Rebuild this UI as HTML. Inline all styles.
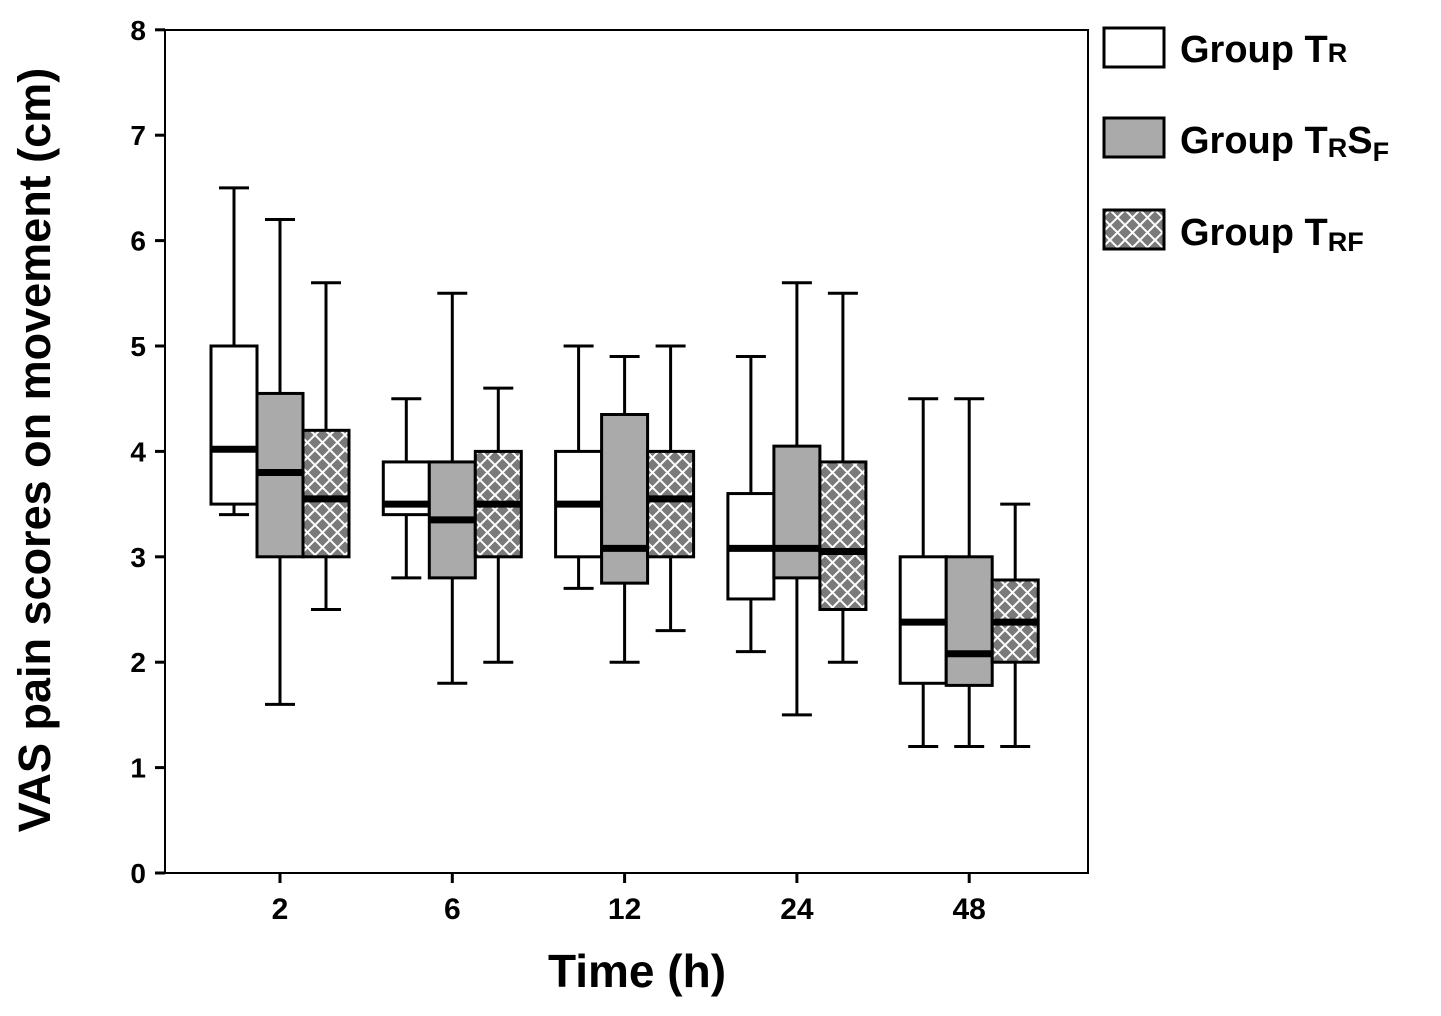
<!DOCTYPE html>
<html><head><meta charset="utf-8"><style>
body{margin:0;background:#fff;}
svg text{font-family:"Liberation Sans",sans-serif;font-weight:bold;fill:#000;}
</style></head><body>
<svg width="1441" height="1011">
<defs>
<pattern id="hatch" patternUnits="userSpaceOnUse" width="15" height="15">
<rect width="15" height="15" fill="#7a7a7a"/>
<path d="M0,0L15,15M15,0L0,15" stroke="#fff" stroke-width="2"/>
</pattern>
</defs>
<g id="plot"></g>
<rect x="165" y="30" width="923" height="843" fill="none" stroke="#000" stroke-width="2"/>
<text x="637" y="987" font-size="46" text-anchor="middle">Time (h)</text>
<text transform="translate(50,450) rotate(-90)" font-size="45" text-anchor="middle">VAS pain scores on movement (cm)</text>
<g>
<rect x="1104" y="28" width="60" height="39" fill="#fff" stroke="#000" stroke-width="3"/>
<text x="1180" y="62" font-size="38">Group T<tspan font-size="27" dy="0">R</tspan></text>
<rect x="1104" y="118" width="60" height="39" fill="#aaa" stroke="#000" stroke-width="3"/>
<text x="1180" y="153" font-size="38">Group T<tspan font-size="27" dy="4">R</tspan><tspan dy="-4">S</tspan><tspan font-size="27" dy="8">F</tspan></text>
<rect x="1104" y="210" width="60" height="39" fill="url(#hatch)" stroke="#000" stroke-width="3"/>
<text x="1180" y="245" font-size="38">Group T<tspan font-size="27" dy="6">RF</tspan></text>
</g>
</svg>
<script>
const categories=["2","6","12","24","48"];
const yTicks=[0,1,2,3,4,5,6,7,8];
// [min,q1,median,q3,max] per category
const groupTR=[[3.4,3.5,4.02,5.0,6.5],[2.8,3.4,3.5,3.9,4.5],[2.7,3.0,3.5,4.0,5.0],[2.1,2.6,3.08,3.6,4.9],[1.2,1.8,2.38,3.0,4.5]];
const groupTRSF=[[1.6,3.0,3.8,4.55,6.2],[1.8,2.8,3.35,3.9,5.5],[2.0,2.75,3.08,4.35,4.9],[1.5,2.8,3.08,4.05,5.6],[1.2,1.78,2.08,3.0,4.5]];
const groupTRF=[[2.5,3.0,3.55,4.2,5.6],[2.0,3.0,3.5,4.0,4.6],[2.3,3.0,3.55,4.0,5.0],[2.0,2.5,3.05,3.9,5.5],[1.2,2.0,2.38,2.78,3.5]];
const NS="http://www.w3.org/2000/svg";
const g=document.getElementById('plot');
const y=v=>873-v*105.4;
const x=i=>280+i*172.3;
function mk(t,a){const e=document.createElementNS(NS,t);for(const k in a)e.setAttribute(k,a[k]);g.appendChild(e);return e;}
yTicks.forEach(v=>{
 const l=mk('line',{x1:155,x2:165,y1:y(v),y2:y(v),stroke:'#000','stroke-width':3});
 
 
 const t=mk('text',{x:146,y:y(v)+10,'font-size':28,'text-anchor':'end'});t.textContent=v;
 
 
});
categories.forEach((c,i)=>{
 const l=mk('line',{x1:x(i),x2:x(i),y1:873,y2:883,stroke:'#000','stroke-width':3});
 
 
 const t=mk('text',{x:x(i),y:919,'font-size':30,'text-anchor':'middle'});t.textContent=c;
 
 
});
const series=[[groupTR,'#fff',-1,'tr'],[groupTRSF,'#aaa',0,'trsf'],[groupTRF,'url(#hatch)',1,'trf']];
const bw=46;
series.forEach(([data,fill,off,nm])=>{
 data.forEach((d,i)=>{
  const cx=x(i)+off*bw;
  const [mn,q1,md,q3,mx]=d;
  const w1=mk('line',{x1:cx,x2:cx,y1:y(mx),y2:y(mn),stroke:'#000','stroke-width':3});
  
  
  [mn,mx].forEach(v=>{const cp=mk('line',{x1:cx-15,x2:cx+15,y1:y(v),y2:y(v),stroke:'#000','stroke-width':3});
   
   });
  const b=mk('rect',{x:cx-bw/2,y:y(q3),width:bw,height:y(q1)-y(q3),fill:fill,stroke:'#000','stroke-width':3});
  
  
  const m=mk('line',{x1:cx-bw/2,x2:cx+bw/2,y1:y(md),y2:y(md),stroke:'#000','stroke-width':7});
  
  
 });
});
</script>
</body></html>
